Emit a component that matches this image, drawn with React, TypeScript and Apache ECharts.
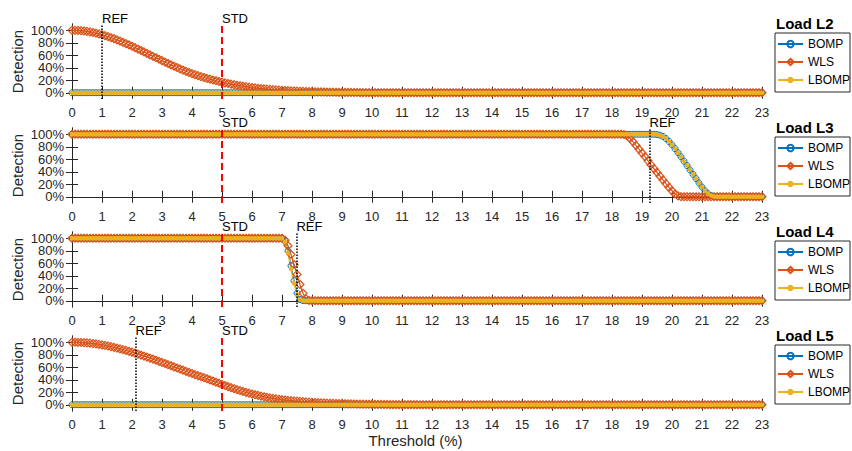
import React, { useEffect, useRef } from "react";
import * as echarts from "echarts";

// ---- sampling grid (threshold in %, step 0.1 from 0 to 23) ----
const N = 231;
const THRESHOLDS: number[] = Array.from({ length: N }, (_, i) => i / 10);

const X_TICKS = [0, 1, 2, 3, 4, 5, 6, 7, 8, 9, 10, 11, 12, 13, 14, 15, 16, 17, 18, 19, 20, 21, 22, 23];
const Y_TICKS = [0, 20, 40, 60, 80, 100];
// percent labels are split over two stacked label rows so neighbours never collide
const Y_LABELS_A = [0, 40, 80];
const Y_LABELS_B = [20, 60, 100];
const SERIES_NAMES = ["BOMP", "WLS", "LBOMP"];
const LOADS = ["Load L2", "Load L3", "Load L4", "Load L5"];
const REF_MARKS = [1.0, 19.25, 7.48, 2.12];
const STD_MARKS = [5, 5, 5, 5];

const hold = (v: number, n: number): number[] => Array(n).fill(v);
const untilEnd = (head: number[], rest: number): number[] => head.concat(hold(rest, N - head.length));

// ---- Load L2 ----
const L2_BOMP = hold(0, N);
const L2_LBOMP = hold(0, N);
const L2_WLS = untilEnd(
  [
    100, 99.9, 99.7, 99.3, 98.8, 98.2, 97.4, 96.4, 95.4, 94.2,
    92.9, 91.4, 89.9, 88.2, 86.5, 84.6, 82.7, 80.7, 78.7, 76.5,
    74.4, 72.1, 69.9, 67.6, 65.3, 62.9, 60.6, 58.3, 56.0, 53.6,
    51.3, 49.1, 46.8, 44.6, 42.5, 40.4, 38.3, 36.3, 34.3, 32.4,
    30.6, 29.0, 27.4, 25.9, 24.4, 23.0, 21.7, 20.4, 19.2, 18.0,
    16.9, 15.8, 14.8, 13.8, 12.9, 12.0, 11.2, 10.4, 9.7, 9.0,
    8.4, 7.8, 7.2, 6.7, 6.2, 5.7, 5.3, 4.9, 4.5, 4.2,
    3.9, 3.6, 3.3, 3.0, 2.8, 2.6, 2.4, 2.2, 2.0, 1.8,
    1.7, 1.5, 1.4, 1.3, 1.2, 1.1, 1.0, 0.9, 0.8, 0.7,
    0.6, 0.6, 0.5, 0.5, 0.4, 0.4, 0.3, 0.3, 0.3, 0.2,
    0.2,
  ],
  0
);

// ---- Load L3 ----
const L3_BOMP = untilEnd(
  [
    ...hold(100, 194),
    100, 99.5, 98.5, 96.5, 93, 88.5, 83, 77, 70.5, 64,
    57, 50, 43, 36, 29, 22, 15.5, 9.5, 5, 2, 0.5,
  ],
  0
);
const L3_LBOMP = untilEnd(
  [
    ...hold(100, 194),
    100, 99.5, 98.5, 96.5, 93, 88.5, 83, 77, 70.5, 64,
    57, 50, 43, 36, 29, 22, 15.5, 9.5, 5, 2, 0.5,
  ],
  0
);
const L3_WLS = untilEnd(
  [
    ...hold(100, 184),
    99.5, 97.5, 93.5, 88, 82, 76, 70, 64, 57.5, 51,
    45, 39, 33, 27, 21, 15, 9.5, 4.5, 1.5, 0.3,
  ],
  0
);

// ---- Load L4 ----
const L4_BOMP = untilEnd([...hold(100, 70), 99.5, 95, 80, 56, 32, 12, 2, 0.3], 0);
const L4_LBOMP = untilEnd([...hold(100, 70), 99.5, 94, 76, 51, 28, 10, 1.5, 0.2], 0);
const L4_WLS = untilEnd([...hold(100, 70), 100, 97, 88, 74, 58, 42, 26, 12, 3, 0.5], 0);

// ---- Load L5 ----
const L5_BOMP = hold(0, N);
const L5_LBOMP = hold(0, N);
const L5_WLS = untilEnd(
  [
    100, 100, 99.8, 99.6, 99.3, 98.9, 98.5, 97.9, 97.3, 96.5,
    95.8, 94.9, 94.0, 92.9, 91.9, 90.7, 89.5, 88.2, 86.9, 85.5,
    84.1, 82.6, 81.1, 79.5, 77.9, 76.3, 74.6, 72.9, 71.2, 69.5,
    67.7, 66.0, 64.2, 62.4, 60.6, 58.8, 57.1, 55.3, 53.5, 51.8,
    50.0, 48.3, 46.6, 44.9, 43.3, 41.6, 39.8, 38.0, 36.2, 34.4,
    32.6, 30.8, 29.1, 27.4, 25.8, 24.2, 22.7, 21.2, 19.8, 18.5,
    17.2, 16.0, 14.9, 13.8, 12.8, 11.9, 11.0, 10.2, 9.5, 8.8,
    8.2, 7.6, 7.1, 6.6, 6.1, 5.7, 5.3, 4.9, 4.5, 4.2,
    3.9, 3.6, 3.3, 3.1, 2.8, 2.6, 2.4, 2.2, 2.0, 1.9,
    1.7, 1.6, 1.5, 1.3, 1.2, 1.1, 1.0, 0.9, 0.8, 0.8,
    0.7, 0.6, 0.6, 0.5, 0.4, 0.4, 0.3, 0.3, 0.3, 0.2,
    0.2, 0.2, 0.1, 0.1, 0.1, 0.1,
  ],
  0
);

const PANEL_VALUES = [
  [L2_BOMP, L2_WLS, L2_LBOMP],
  [L3_BOMP, L3_WLS, L3_LBOMP],
  [L4_BOMP, L4_WLS, L4_LBOMP],
  [L5_BOMP, L5_WLS, L5_LBOMP],
];

// ---- styling / layout ----
const FONT = '"Liberation Sans", Arial, Helvetica, sans-serif';
const AXIS_COLOR = "#262626";
const COLORS = ["#0072BD", "#D95319", "#EDB120"];
const GRID_LEFT = 69;
const GRID_WIDTH = 693;
const GRID_HEIGHT = 75;
const GRID_TOPS = [24, 128, 232, 336];
const X_MIN = -0.1;
const X_MAX = 23;
const Y_MIN = -10;
const Y_MAX = 110;

function seriesStyle(k: number) {
  const color = COLORS[k];
  if (k === 0) {
    return {
      symbol: "circle",
      symbolSize: 6,
      lineStyle: { color, width: 1.2 },
      itemStyle: { color: "rgba(0,0,0,0)", borderColor: color, borderWidth: 1 },
    };
  }
  if (k === 1) {
    return {
      symbol: "diamond",
      symbolSize: 8,
      lineStyle: { color, width: 1.2 },
      itemStyle: { color: "rgba(0,0,0,0)", borderColor: color, borderWidth: 1.2 },
    };
  }
  return {
    symbol: "circle",
    symbolSize: 4.5,
    lineStyle: { color, width: 1.5 },
    itemStyle: { color, borderWidth: 0 },
  };
}

function buildOption() {
  const axisLine = { show: true, lineStyle: { color: AXIS_COLOR, width: 1 } };
  const tick = { show: true, inside: true, length: 6, lineStyle: { color: AXIS_COLOR, width: 1 } };
  const labelText = { color: AXIS_COLOR, fontSize: 13, fontFamily: FONT };

  const grid: any[] = [];
  const xAxis: any[] = [];
  const yAxis: any[] = [];
  const series: any[] = [];
  const legend: any[] = [];
  const title: any[] = [];

  LOADS.forEach((load, i) => {
    const last = i === LOADS.length - 1;
    grid.push({
      left: GRID_LEFT,
      top: GRID_TOPS[i],
      width: GRID_WIDTH,
      height: GRID_HEIGHT,
      outerBoundsMode: "none",
      containLabel: false,
    });

    xAxis.push({
      type: "value",
      gridIndex: i,
      position: "bottom",
      min: X_MIN,
      max: X_MAX,
      axisLine,
      axisTick: { ...tick, customValues: X_TICKS },
      axisLabel: { ...labelText, margin: 7, customValues: X_TICKS },
      splitLine: { show: false },
      name: last ? "Threshold (%)" : "",
      nameLocation: "middle",
      nameGap: 22,
      nameTextStyle: { color: AXIS_COLOR, fontSize: 15, fontFamily: FONT },
    });
    xAxis.push({
      type: "value",
      gridIndex: i,
      position: "top",
      min: X_MIN,
      max: X_MAX,
      axisLine,
      axisTick: { ...tick, customValues: X_TICKS },
      axisLabel: { show: false },
      splitLine: { show: false },
    });
    // left axis: line, ticks, first label row and the axis title
    yAxis.push({
      type: "value",
      gridIndex: i,
      position: "left",
      min: Y_MIN,
      max: Y_MAX,
      axisLine,
      axisTick: { ...tick, customValues: Y_TICKS },
      axisLabel: { ...labelText, margin: 5, formatter: "{value}%", customValues: Y_LABELS_A },
      splitLine: { show: false },
      name: "Detection",
      nameLocation: "middle",
      nameGap: 44,
      nameMoveOverlap: false,
      nameTextStyle: { color: AXIS_COLOR, fontSize: 15, fontFamily: FONT },
    });
    // right axis: box edge with inward ticks
    yAxis.push({
      type: "value",
      gridIndex: i,
      position: "right",
      min: Y_MIN,
      max: Y_MAX,
      axisLine,
      axisTick: { ...tick, customValues: Y_TICKS },
      axisLabel: { show: false },
      splitLine: { show: false },
    });
    // left axis, second label row
    yAxis.push({
      type: "value",
      gridIndex: i,
      position: "left",
      min: Y_MIN,
      max: Y_MAX,
      axisLine: { show: false },
      axisTick: { show: false },
      axisLabel: { ...labelText, margin: 5, formatter: "{value}%", customValues: Y_LABELS_B },
      splitLine: { show: false },
    });

    SERIES_NAMES.forEach((name, k) => {
      const values = PANEL_VALUES[i][k];
      const s: any = {
        type: "line",
        name,
        xAxisIndex: 2 * i,
        yAxisIndex: 3 * i,
        data: THRESHOLDS.map((x, j) => [x, values[j]]),
        showAllSymbol: true,
        ...seriesStyle(k),
      };
      if (k === SERIES_NAMES.length - 1) {
        s.markLine = {
          silent: true,
          symbol: ["none", "none"],
          data: [
            {
              xAxis: REF_MARKS[i],
              lineStyle: { color: "#000", type: [1.5, 1.5], width: 1.5 },
              label: {
                show: true,
                position: "end",
                formatter: "REF",
                align: "left",
                distance: -1,
                color: "#000",
                fontSize: 13,
                fontFamily: FONT,
              },
            },
            {
              xAxis: STD_MARKS[i],
              lineStyle: { color: "#FF0000", type: [7, 4], width: 2 },
              label: {
                show: true,
                position: "end",
                formatter: "STD",
                align: "left",
                distance: -1,
                color: "#000",
                fontSize: 13,
                fontFamily: FONT,
              },
            },
          ],
        };
      }
      series.push(s);
    });

    title.push({
      text: load,
      left: 776,
      top: GRID_TOPS[i] - 8,
      padding: 0,
      textStyle: { fontSize: 15, fontWeight: "bold", color: "#000", fontFamily: FONT },
    });
    legend.push({
      data: SERIES_NAMES,
      orient: "vertical",
      left: 775,
      top: GRID_TOPS[i] + 9,
      selectedMode: false,
      backgroundColor: "#fff",
      borderColor: AXIS_COLOR,
      borderWidth: 1,
      borderRadius: 0,
      padding: [5, 0, 6, 2],
      itemGap: 6,
      itemWidth: 25,
      itemHeight: 8,
      textStyle: { fontSize: 12, color: "#000", fontFamily: FONT },
    });
  });

  return {
    animation: false,
    backgroundColor: "#fff",
    grid,
    xAxis,
    yAxis,
    series,
    legend,
    title,
  };
}

export default function App() {
  const ref = useRef<HTMLDivElement>(null);
  useEffect(() => {
    if (!ref.current) return;
    const chart = echarts.init(ref.current, null, { renderer: "svg" });
    chart.setOption(buildOption() as any);
    return () => chart.dispose();
  }, []);
  return (
    <div
      ref={ref}
      style={{ position: "absolute", left: 0, top: 0, width: 852, height: 451, background: "#fff" }}
    />
  );
}
